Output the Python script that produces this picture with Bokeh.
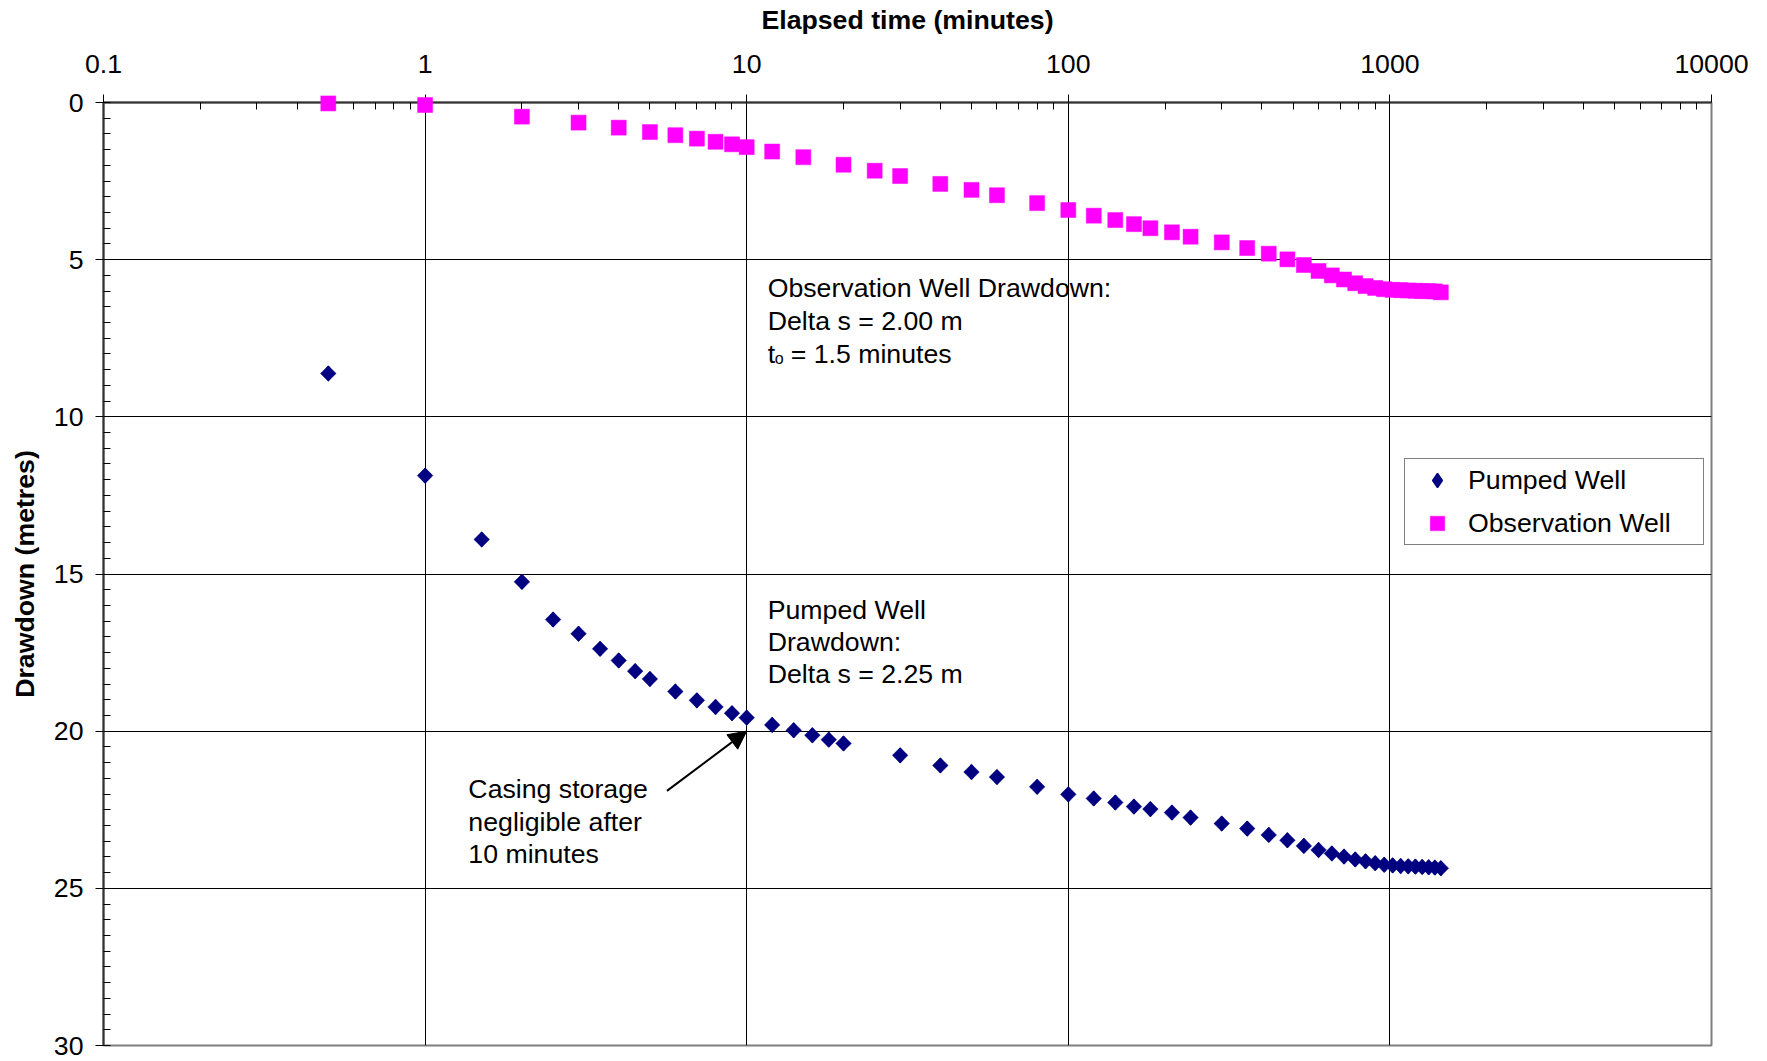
import numpy as np
from bokeh.plotting import figure
from bokeh.models import (Range1d, FixedTicker, Label, Arrow, NormalHead,
                          Legend, LegendItem, ColumnDataSource)
from bokeh.embed import file_html
from bokeh.resources import INLINE

# ---------------- data ----------------
pumped_time = [0.5, 1, 1.5, 2, 2.5, 3, 3.5, 4, 4.5, 5, 6, 7, 8, 9, 10, 12, 14, 16, 18, 20,
               30, 40, 50, 60, 80, 100, 120, 140, 160, 180, 210, 240, 300, 360, 420, 480,
               540, 600, 660, 720, 780, 840, 900, 960, 1020, 1080, 1140, 1200, 1260, 1320,
               1380, 1440]
pumped_drawdown = [8.62, 11.87, 13.90, 15.25, 16.45, 16.90, 17.38, 17.75, 18.09, 18.34,
                   18.74, 19.02, 19.23, 19.43, 19.57, 19.80, 19.97, 20.13, 20.27, 20.39,
                   20.77, 21.09, 21.30, 21.46, 21.77, 22.01, 22.14, 22.27, 22.40, 22.48,
                   22.59, 22.75, 22.94, 23.10, 23.30, 23.47, 23.65, 23.78, 23.89, 23.99,
                   24.08, 24.14, 24.20, 24.25, 24.27, 24.29, 24.30, 24.31, 24.32, 24.33,
                   24.34, 24.36]

obs_time = [0.5, 1, 2, 3, 4, 5, 6, 7, 8, 9, 10, 12, 15, 20, 25, 30, 40, 50, 60, 80,
            100, 120, 140, 160, 180, 210, 240, 300, 360, 420, 480, 540, 600, 660, 720,
            780, 840, 900, 960, 1020, 1080, 1140, 1200, 1260, 1320, 1380, 1440]
obs_drawdown = [0.03, 0.08, 0.45, 0.64, 0.80, 0.94, 1.04, 1.15, 1.25, 1.33,
                1.42, 1.56, 1.74, 1.98, 2.17, 2.34, 2.59, 2.78, 2.95, 3.20,
                3.42, 3.60, 3.74, 3.87, 4.00, 4.13, 4.27, 4.45, 4.63, 4.81,
                4.99, 5.17, 5.36, 5.50, 5.63, 5.75, 5.84, 5.90, 5.94, 5.96,
                5.97, 5.98, 5.99, 6.00, 6.00, 6.01, 6.04]

x_ticks = [0.1, 1, 10, 100, 1000, 10000]
x_tick_labels = ["0.1", "1", "10", "100", "1000", "10000"]
y_ticks = [0, 5, 10, 15, 20, 25, 30]
y_tick_labels = ["0", "5", "10", "15", "20", "25", "30"]

series_names = ["Pumped Well", "Observation Well"]

FONT = "Liberation Sans"
FS = "26.7px"

# ---------------- figure ----------------
p = figure(width=1767, height=1061, x_axis_type="log",
           x_range=Range1d(0.1, 10000), y_range=Range1d(30, 0),
           x_axis_location="above", output_backend="svg", toolbar_location=None,
           min_border_left=103, min_border_right=56, min_border_top=102,
           min_border_bottom=16)
p.background_fill_color = "white"
p.border_fill_color = "white"
p.outline_line_color = "#7f7f7f"
p.outline_line_width = 2

x_minor = [m * 10.0 ** d for d in range(-1, 4) for m in range(2, 10)]
y_minor = [v * 0.5 for v in range(0, 61)]

xa = p.xaxis[0]
xa.ticker = FixedTicker(ticks=x_ticks, minor_ticks=x_minor)
xa.major_label_overrides = {t: l for t, l in zip(x_ticks, x_tick_labels)}
ya = p.yaxis[0]
ya.ticker = FixedTicker(ticks=y_ticks, minor_ticks=y_minor)
ya.major_label_overrides = {t: l for t, l in zip(y_ticks, y_tick_labels)}

xa.axis_label = "Elapsed time (minutes)"
ya.axis_label = "Drawdown (metres)"
for ax in (xa, ya):
    ax.axis_label_text_font = FONT
    ax.axis_label_text_font_size = FS
    ax.axis_label_text_font_style = "bold"
    ax.axis_label_text_color = "black"
    ax.major_label_text_font = FONT
    ax.major_label_text_font_size = FS
    ax.major_label_text_color = "black"
    ax.axis_line_color = "#333333"
    ax.axis_line_width = 2
    ax.major_tick_in = 0
    ax.major_tick_out = 8
    ax.minor_tick_in = 7
    ax.minor_tick_out = 0
    ax.major_tick_line_color = "black"
    ax.minor_tick_line_color = "black"
    ax.major_tick_line_width = 1
    ax.minor_tick_line_width = 1
xa.major_label_standoff = 22
xa.axis_label_standoff = 17
ya.major_label_standoff = 12
ya.axis_label_standoff = 11

p.xgrid.grid_line_color = "black"
p.xgrid.grid_line_width = 1
p.ygrid.grid_line_color = "black"
p.ygrid.grid_line_width = 1

# ---------------- series ----------------
src_p = ColumnDataSource(dict(t=pumped_time, s=pumped_drawdown))
src_o = ColumnDataSource(dict(t=obs_time, s=obs_drawdown))

# diamond glyph (used for the legend symbol), sits hidden beneath the rotated squares
r_pd = p.scatter("t", "s", source=src_p, marker="diamond", size=14,
                 fill_color="#000080", line_color="#000080", line_width=1.5)
r_p = p.scatter("t", "s", source=src_p, marker="square", size=11, angle=np.pi / 4,
                fill_color="#000080", line_color="#000080", line_width=0.5,
                level="overlay")
r_o = p.scatter("t", "s", source=src_o, marker="square", size=15,
                fill_color="#FF00FF", line_color="#FF00FF", line_width=0.5,
                level="overlay")

# ---------------- annotations ----------------
DY = -0.28

def lab(x, y, text, size=FS, xoff=0, yoff=0):
    p.add_layout(Label(x=x, y=y + DY, text=text, text_font=FONT, text_font_size=size,
                       text_color="black", text_align="left", text_baseline="alphabetic",
                       x_offset=xoff, y_offset=yoff))

lab(11.62, 6.19, "Observation Well Drawdown:")
lab(11.62, 7.22, "Delta s = 2.00 m")
lab(11.62, 8.27, "t")
lab(11.62, 8.27, "o", size="16px", xoff=7.2, yoff=-5)
lab(11.62, 8.27, "= 1.5 minutes", xoff=23)

lab(11.62, 16.41, "Pumped Well")
lab(11.62, 17.44, "Drawdown:")
lab(11.62, 18.47, "Delta s = 2.25 m")

lab(1.363, 22.13, "Casing storage")
lab(1.363, 23.16, "negligible after")
lab(1.363, 24.19, "10 minutes")

p.add_layout(Arrow(end=NormalHead(size=18, fill_color="black", line_color="black"),
                   x_start=5.65, y_start=21.9, x_end=10, y_end=20,
                   line_color="black", line_width=2))

# ---------------- legend ----------------
legend = Legend(items=[LegendItem(label=series_names[0], renderers=[r_pd]),
                       LegendItem(label=series_names[1], renderers=[r_o])],
                location=(1301, 500), orientation="vertical",
                label_text_font=FONT, label_text_font_size=FS, label_text_color="black",
                glyph_width=58, glyph_height=36, label_standoff=2, label_width=232,
                padding=3, spacing=7, margin=0,
                border_line_color="black", border_line_width=1,
                background_fill_color="white", background_fill_alpha=1.0)
p.add_layout(legend, "center")

open("out.html", "w").write(file_html(p, INLINE))
